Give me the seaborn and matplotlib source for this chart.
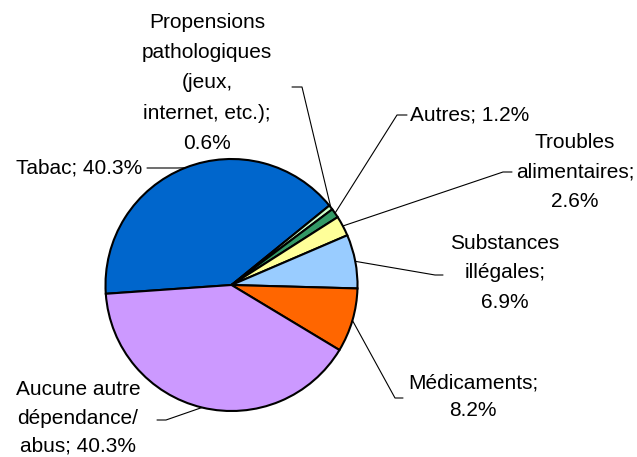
import numpy as np
import matplotlib
matplotlib.use("Agg")
import matplotlib.pyplot as plt
import seaborn as sns

# Data (clockwise from the left edge)
names = ["Tabac", "Propensions\npathologiques\n(jeux,\ninternet, etc.)", "Autres",
         "Troubles\nalimentaires", "Substances\nillégales", "Médicaments",
         "Aucune autre\ndépendance/\nabus"]
values = [40.3, 0.6, 1.2, 2.6, 6.9, 8.2, 40.3]
seps = [" ", "\n", " ", "\n", "\n", "\n", " "]
colors = ["#0066CC", "#CCFFCC", "#339966", "#FFFF99", "#99CCFF", "#FF6600", "#CC99FF"]

sns.set_theme(style="white")
plt.rcParams["font.family"] = ["Liberation Sans", "DejaVu Sans"]

W, H = 637, 457
fig = plt.figure(figsize=(W / 100, H / 100), dpi=100)
ax = fig.add_axes([0, 0, 1, 1])

cx, cy, r = 231.5, H - 285, 126
wedges, _ = ax.pie(values, colors=colors, startangle=184, counterclock=False,
                   center=(cx, cy), radius=r, frame=True,
                   wedgeprops=dict(edgecolor="black", linewidth=1.5))
ax.set_xlim(0, W)
ax.set_ylim(0, H)
ax.set_aspect("equal")
ax.axis("off")

# layout: (text x, text y, ha, stub start, elbow, line spacing) in image pixels
layout = [
    (142, 168, "right", (147, 168), (177, 168), 1.7),
    (207, 83, "center", (292, 87), (302, 87), 1.76),
    (410, 115, "left", (407, 115), (397, 115), 1.7),
    (575, 172, "center", (512, 172), (503, 172), 1.72),
    (505, 273, "center", (443, 275), (435, 275), 1.68),
    (473, 397, "center", (403, 398), (395, 398), 1.58),
    (78, 418, "center", (157, 420), (166, 420), 1.62),
]

for w, name, v, sep, (tx, ty, ha, p0, p1, ls) in zip(wedges, names, values, seps, layout):
    mid = np.deg2rad((w.theta1 + w.theta2) / 2)
    ex, ey = cx + r * np.cos(mid), cy + r * np.sin(mid)
    ax.plot([p0[0], p1[0], ex], [H - p0[1], H - p1[1], ey], color="black", lw=0.8)
    ax.text(tx, H - ty, f"{name};{sep}{v:.1f}%", ha=ha, va="center",
            multialignment="center", fontsize=15, linespacing=ls, color="black")

fig.savefig("out.png", dpi=100, facecolor="white")
